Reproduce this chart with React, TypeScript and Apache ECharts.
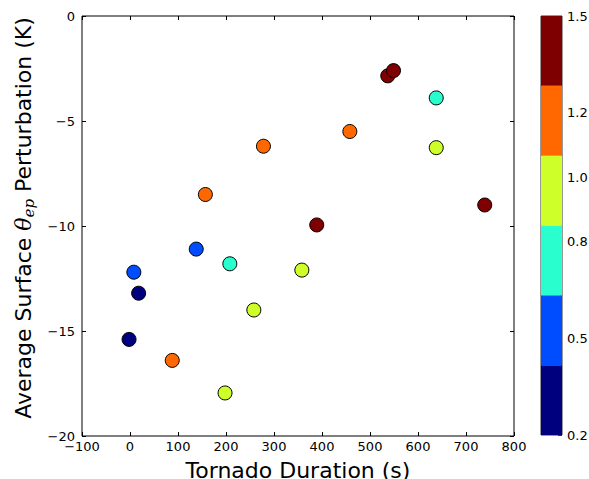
import React, { useEffect, useRef } from "react";
import * as echarts from "echarts";

// Scatter data
const durations = [-2, 8, 18, 88, 138, 157, 198, 208, 258, 278, 358, 389, 458, 537, 549, 638, 638, 739];
const perturbations = [-15.4, -12.2, -13.2, -16.4, -11.1, -8.5, -17.95, -11.8, -14.0, -6.2, -12.1, -9.95, -5.5, -2.85, -2.6, -3.9, -6.27, -9.0];
const colorValues = [0.3, 0.5, 0.3, 1.2, 0.5, 1.2, 1.0, 0.75, 1.0, 1.2, 1.0, 1.4, 1.2, 1.4, 1.4, 0.75, 1.0, 1.4];

// Colorbar
const colorBounds = [0.2, 0.4167, 0.6333, 0.85, 1.0667, 1.2833, 1.5];
const colorList = ["#00007f", "#004cff", "#29ffce", "#ceff29", "#ff6800", "#7f0000"];
const colorbarTicks = [0.2, 0.5, 0.8, 1.0, 1.2, 1.5];

const xTicks = { min: -100, max: 800, interval: 100 };
const yTicks = { min: -20, max: 0, interval: 5 };

const FONT = "DejaVu Sans";
const fmtMinus = (v: number) => String(v).replace("-", "\u2212");

export default function App() {
  const ref = useRef<HTMLDivElement>(null);
  useEffect(() => {
    document.body.style.margin = "0";
    document.body.style.overflow = "hidden";
    if (!ref.current) return;
    const chart = echarts.init(ref.current, null, { renderer: "svg" });
    const scatterData = durations.map((d, i) => [d, perturbations[i], colorValues[i]]);
    const barData = colorList.map((c, i) => [colorBounds[i], colorBounds[i + 1], i]);
    const pieces = colorList.map((c, i) => ({ gte: colorBounds[i], lt: colorBounds[i + 1] + (i === colorList.length - 1 ? 0.001 : 0), color: c }));

    const tick = { inside: true, length: 4, lineStyle: { color: "#000" } };
    const noLine = { show: false, onZero: false };

    chart.setOption({
      animation: false,
      textStyle: { fontFamily: FONT },
      grid: [
        { left: 82, top: 16, width: 432, height: 420, show: true, borderColor: "#000", borderWidth: 1, backgroundColor: "transparent", containLabel: false, outerBoundsMode: "none" },
        { left: 541, top: 16, width: 21, height: 419, show: true, borderColor: "#333", borderWidth: 1, backgroundColor: "transparent", containLabel: false, outerBoundsMode: "none" },
      ],
      visualMap: {
        type: "piecewise",
        show: false,
        seriesIndex: 0,
        dimension: 2,
        pieces,
      },
      xAxis: [
        {
          gridIndex: 0,
          type: "value",
          position: "bottom",
          ...xTicks,
          name: "Tornado Duration (s)",
          nameLocation: "middle",
          nameGap: 23,
          nameTextStyle: { fontSize: 22, color: "#000", fontFamily: FONT },
          axisLine: noLine,
          axisTick: tick,
          splitLine: { show: false },
          axisLabel: { fontSize: 13, color: "#000", margin: 4, formatter: fmtMinus, fontFamily: FONT },
        },
        {
          gridIndex: 0,
          type: "value",
          position: "top",
          ...xTicks,
          axisLine: noLine,
          axisTick: tick,
          splitLine: { show: false },
          axisLabel: { show: false },
        },
        {
          gridIndex: 1,
          type: "value",
          min: 0,
          max: 1,
          show: false,
        },
      ],
      yAxis: [
        {
          gridIndex: 0,
          type: "value",
          position: "left",
          ...yTicks,
          name: "Average Surface {t|θ}{s|ep} Perturbation (K)",
          nameLocation: "middle",
          nameGap: 46,
          nameTextStyle: {
            fontSize: 22,
            color: "#000",
            fontFamily: FONT,
            padding: [0, 0, 0, 16],
            rich: {
              t: { fontSize: 22, fontStyle: "italic", fontFamily: "DejaVu Serif", color: "#000" },
              s: { fontSize: 15, fontStyle: "italic", fontFamily: "DejaVu Serif", color: "#000", verticalAlign: "bottom", padding: [10, 0, 0, 0] },
            },
          },
          axisLine: noLine,
          axisTick: tick,
          splitLine: { show: false },
          axisLabel: { fontSize: 13, color: "#000", margin: 7, formatter: fmtMinus, fontFamily: FONT },
        },
        {
          gridIndex: 0,
          type: "value",
          position: "right",
          ...yTicks,
          axisLine: noLine,
          axisTick: tick,
          splitLine: { show: false },
          axisLabel: { show: false },
        },
        {
          gridIndex: 1,
          type: "value",
          position: "right",
          min: 0.2,
          max: 1.5,
          axisLine: noLine,
          splitLine: { show: false },
          axisTick: { inside: true, length: 4, customValues: colorbarTicks, lineStyle: { color: "#333" } },
          axisLabel: {
            customValues: colorbarTicks,
            fontSize: 13,
            color: "#000",
            margin: 5,
            fontFamily: FONT,
            formatter: (v: number) => v.toFixed(1),
          },
        },
      ],
      series: [
        {
          type: "scatter",
          xAxisIndex: 0,
          yAxisIndex: 0,
          data: scatterData,
          symbolSize: 14,
          itemStyle: { borderColor: "#000", borderWidth: 1, opacity: 1 },
          z: 5,
        },
        {
          type: "custom",
          xAxisIndex: 2,
          yAxisIndex: 2,
          data: barData,
          renderItem: (params: any, api: any) => {
            const lo = api.value(0);
            const hi = api.value(1);
            const idx = api.value(2);
            const p1 = api.coord([0, hi]);
            const p2 = api.coord([1, lo]);
            return {
              type: "rect",
              shape: { x: p1[0], y: p1[1], width: p2[0] - p1[0], height: p2[1] - p1[1] },
              style: { fill: colorList[idx], stroke: "none" },
            };
          },
          z: 1,
        },
      ],
    });
    return () => chart.dispose();
  }, []);
  return <div ref={ref} style={{ width: 589, height: 479, background: "#fff" }} />;
}
